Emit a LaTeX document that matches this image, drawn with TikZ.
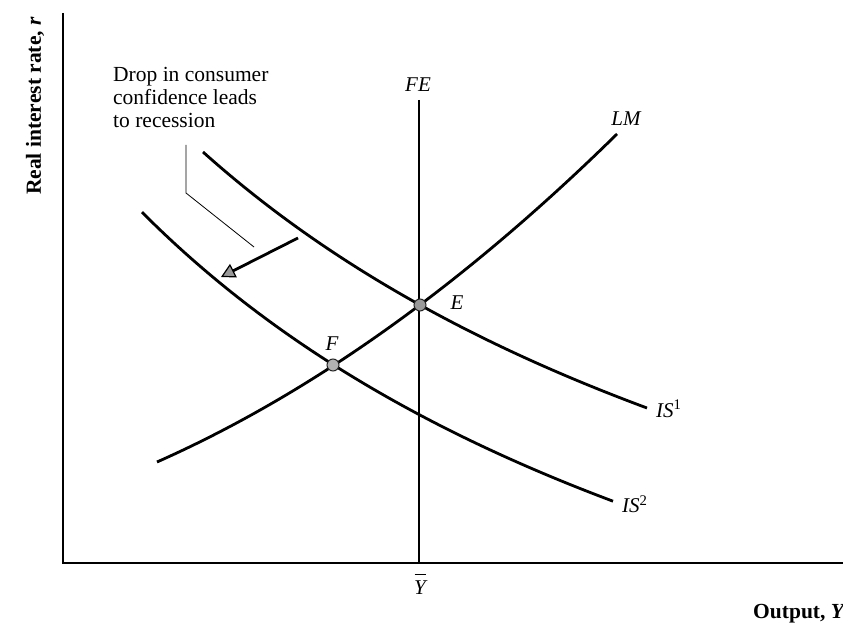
\documentclass[tikz,border=0pt]{standalone}
\usepackage{fontspec}
\setmainfont{Liberation Serif}
\usetikzlibrary{arrows.meta}
\begin{document}
\begin{tikzpicture}[x=1pt,y=1pt,
  curve/.style={line width=2.8pt},
  axisline/.style={line width=1.4pt},
  eqpt/.style={circle,draw=black!85,fill=black!40,line width=1pt,minimum size=12pt,inner sep=0pt},
  lbl/.style={font=\fontsize{21}{24}\selectfont\itshape,inner sep=0pt},
  axlbl/.style={font=\fontsize{21.5}{24}\selectfont\bfseries,inner sep=0pt},
  note/.style={font=\fontsize{21.5}{23}\selectfont,align=left,inner sep=0pt},
  shiftarrow/.style={line width=2.8pt,-{Triangle[width=15pt,length=14pt,fill=black!40,line width=1.2pt]}},
  leader/.style={line width=0.8pt}
]
\useasboundingbox (0,0) rectangle (843,624);
% axes
\coordinate (O) at (63,61);
\coordinate (ytop) at (63,611);
\coordinate (xend) at (843,61);
\draw[axisline] (ytop) -- (O) -- (xend);
\node[axlbl,rotate=90] (ylab) at (35,518) {Real interest rate, \textit{r}};
\node[axlbl,anchor=base west] (xlab) at (753,6) {Output, \textit{Y}};
% FE line
\coordinate (fetop) at (419,524);
\coordinate (febot) at (419,61);
\draw[curve] (fetop) -- (febot);
\node[lbl] (felab) at (418,539) {FE};
\node[lbl,align=center] (ybar) at (420,40) {\rule{11pt}{1.3pt}\\[-5pt]Y};
% LM curve (parabola as cubic)
\coordinate (lmS) at (157,162);
\coordinate (lmC1) at (310.3,230);
\coordinate (lmC2) at (463.7,339.3);
\coordinate (lmE) at (617,490);
\draw[curve] (lmS) .. controls (lmC1) and (lmC2) .. (lmE);
\node[lbl] (lmlab) at (626,505) {LM};
% IS curves
\draw[curve] plot[domain=203:647,samples=90] (\x,{-247+5773.6/(\x/100+6)});
\node[lbl,anchor=west] (is1lab) at (656,215) {IS\textsuperscript{\upshape 1}};
\draw[curve] plot[domain=142:613,samples=90] (\x,{-332.5+5522.7/(\x/100+6)});
\node[lbl,anchor=west] (is2lab) at (622,120) {IS\textsuperscript{\upshape 2}};
% equilibrium points
\node[eqpt] (E) at (420,319) {};
\node[eqpt,fill=black!30] (F) at (333,259) {};
\node[lbl] (elab) at (457,321) {E};
\node[lbl] (flab) at (332,280) {F};
% shift arrow
\coordinate (arrS) at (298,386);
\coordinate (arrT) at (221,347);
\draw[shiftarrow] (arrS) -- (arrT);
% annotation
\node[note,anchor=north west] (note) at (113,557) {Drop in consumer\\confidence leads\\to recession};
\coordinate (ld1) at (186,479);
\coordinate (ld2) at (186,431);
\coordinate (ld3) at (254,377);
\draw[leader] (ld1) -- (ld2) -- (ld3);
\end{tikzpicture}
\end{document}
